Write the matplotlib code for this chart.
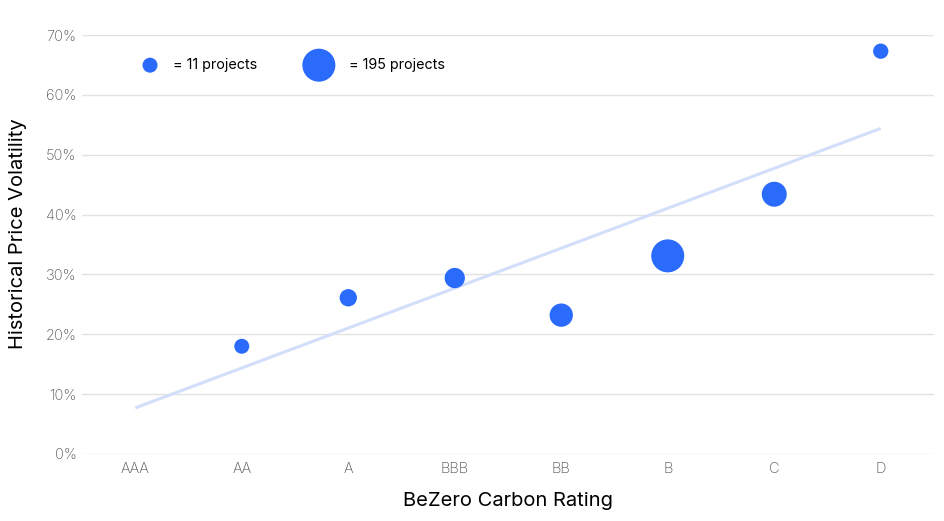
import matplotlib.pyplot as plt
from matplotlib.ticker import FuncFormatter, MultipleLocator

plt.rcParams['font.family'] = ['Inter', 'DejaVu Sans']

ratings = ["AAA", "AA", "A", "BBB", "BB", "B", "C", "D"]
# volatility (%) per rating, AAA has no point
volatility = [None, 18.0, 26.1, 29.4, 23.2, 33.1, 43.4, 67.3]
projects = [None, 11, 35, 65, 96, 195, 113, 14]
trend_start = 7.7
trend_end = 54.4

blue = "#2b6bfc"
dpi = 100


def marker_area(n):
    # diameter in px: 11 projects -> 15px, 195 projects -> 33px
    d_px = 15 + (n - 11) * 18 / 184
    d_pt = d_px * 72 / dpi
    return d_pt ** 2


fig = plt.figure(figsize=(9.44, 5.21), dpi=dpi)
ax = fig.add_axes([0.0869, 0.1286, 0.9025, 0.8042])

xs = list(range(len(ratings)))
pts = [(x, v, n) for x, v, n in zip(xs, volatility, projects) if v is not None]

ax.plot([0, len(ratings) - 1], [trend_start, trend_end], color="#d3defb", lw=2.2, zorder=2,
        solid_capstyle="butt")
ax.scatter([p[0] for p in pts], [p[1] for p in pts],
           s=[marker_area(p[2]) for p in pts], color=blue, edgecolor="none", zorder=3)

# size legend
ax.scatter([0.0798], [0.928], s=marker_area(11), color=blue, edgecolor="none",
           transform=ax.transAxes, clip_on=False)
ax.text(0.107, 0.928, "= 11 projects", transform=ax.transAxes, va="center", fontsize=10.3)
ax.scatter([0.278], [0.928], s=marker_area(195), color=blue, edgecolor="none",
           transform=ax.transAxes, clip_on=False)
ax.text(0.313, 0.928, "= 195 projects", transform=ax.transAxes, va="center", fontsize=10.3)

ax.set_xlim(-0.5, len(ratings) - 0.5)
ax.set_ylim(0, 70)
ax.set_xticks(xs)
ax.set_xticklabels(ratings)
ax.yaxis.set_major_locator(MultipleLocator(10))
ax.yaxis.set_major_formatter(FuncFormatter(lambda v, p: "{:.0f}%".format(v)))

ax.grid(axis="y", color="#e2e2e2", lw=1)
ax.set_axisbelow(True)
for s in ax.spines.values():
    s.set_visible(False)
ax.tick_params(length=0, labelcolor="#555555", labelsize=10.5)
ax.tick_params(axis="x", pad=6)
ax.tick_params(axis="y", pad=4)
for lab in ax.get_xticklabels() + ax.get_yticklabels():
    lab.set_fontweight("light")

ax.set_xlabel("BeZero Carbon Rating", fontsize=14.5, labelpad=11)
ax.set_ylabel("Historical Price Volatility", fontsize=14.5, labelpad=8)
ax.yaxis.set_label_coords(-0.065, 0.527)

plt.savefig("out.png", dpi=dpi)
